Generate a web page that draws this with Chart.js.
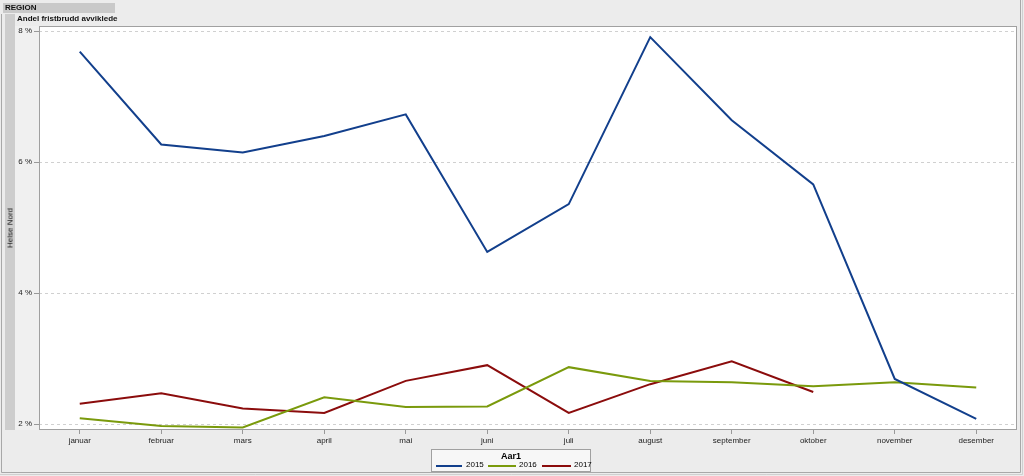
<!DOCTYPE html>
<html><head><meta charset="utf-8">
<script src="https://cdn.jsdelivr.net/npm/chart.js@4/dist/chart.umd.min.js"></script>
<style>
html,body{margin:0;padding:0;background:#ececec;width:1024px;height:476px;overflow:hidden;font-family:"Liberation Sans",Arial,sans-serif;}
#wrap{position:relative;width:1024px;height:476px;}
canvas{position:absolute;left:0;top:0;}
.t{position:absolute;font-size:8px;color:#111;white-space:nowrap;}
#legend{position:absolute;left:431px;top:449px;width:158px;height:21px;border:1px solid #a0a0a0;background:#f7f7f7;font-size:8px;}
#legend .ttl{position:absolute;left:0;width:158px;top:1px;text-align:center;font-weight:bold;font-size:9px;}
#legend .it{position:absolute;top:10px;}
#legend .ln{position:absolute;top:5px;height:2px;}
#legend .lb{position:absolute;top:0;}
</style></head><body>
<div id="wrap">
<canvas id="c" width="1024" height="476"></canvas>
<div class="t" style="left:5px;top:3px;font-weight:bold;">REGION</div>
<div class="t" style="left:17px;top:14px;font-weight:bold;">Andel fristbrudd avviklede</div>
<div class="t" style="left:10px;top:228px;transform:translate(-50%,-50%) rotate(-90deg);">Helse Nord</div>
<div id="legend">
  <div class="ttl">Aar1</div>
  <div class="it" style="left:4px"><div class="ln" style="left:0;width:26px;background:#123f8c"></div><div class="lb" style="left:30px">2015</div></div>
  <div class="it" style="left:56px"><div class="ln" style="left:0;width:28px;background:#7a9a0c"></div><div class="lb" style="left:31px">2016</div></div>
  <div class="it" style="left:110px"><div class="ln" style="left:0;width:29px;background:#8b0c0c"></div><div class="lb" style="left:32px">2017</div></div>
</div>
</div>
<script>
const months = ["januar","februar","mars","april","mai","juni","juli","august","september","oktober","november","desember"];
const y2015 = [7.69,6.27,6.15,6.40,6.73,4.63,5.36,7.91,6.64,5.66,2.69,2.08];
const y2016 = [2.09,1.97,1.95,2.41,2.26,2.27,2.87,2.66,2.64,2.58,2.64,2.56];
const y2017 = [2.31,2.47,2.24,2.17,2.66,2.90,2.17,2.61,2.96,2.49,null,null];
const yTicks = [2,4,6,8];

const bgPlugin = {
  id:'bg',
  beforeDraw(chart){
    const ctx = chart.ctx, a = chart.chartArea;
    ctx.save();
    ctx.fillStyle = '#ececec'; ctx.fillRect(0,0,1024,476);
    ctx.fillStyle = '#c9c9c9'; ctx.fillRect(3,3,112,10);
    ctx.fillStyle = '#cdcdcd'; ctx.fillRect(5,14,10,a.bottom-14);
    ctx.fillStyle = '#f0f0f0'; ctx.fillRect(15,a.top,a.left-15,a.bottom-a.top);
    ctx.strokeStyle = '#a8a8a8'; ctx.lineWidth = 1;
    ctx.beginPath();
    ctx.moveTo(1.5,14); ctx.lineTo(1.5,472.5); ctx.lineTo(1020.5,472.5); ctx.lineTo(1020.5,0);
    ctx.stroke();
    ctx.strokeStyle = '#d0d0d0';
    ctx.beginPath(); ctx.moveTo(1022.5,0); ctx.lineTo(1022.5,474.5); ctx.lineTo(0,474.5); ctx.stroke();
    ctx.fillStyle = '#ffffff'; ctx.fillRect(a.left,a.top,a.right-a.left,a.bottom-a.top);
    ctx.restore();
  },
  afterDraw(chart){
    const ctx = chart.ctx, a = chart.chartArea;
    ctx.save();
    ctx.strokeStyle = '#a0a0a0'; ctx.lineWidth = 1;
    ctx.strokeRect(a.left+0.5,a.top+0.5,a.right-a.left-1,a.bottom-a.top-1);
    ctx.restore();
  }
};

new Chart(document.getElementById('c'), {
  type:'line',
  data:{
    labels: months,
    datasets:[
      {label:'2015', data:y2015, borderColor:'#123f8c', borderWidth:2, pointRadius:0, tension:0, fill:false},
      {label:'2016', data:y2016, borderColor:'#7a9a0c', borderWidth:2, pointRadius:0, tension:0, fill:false},
      {label:'2017', data:y2017, borderColor:'#8b0c0c', borderWidth:2, pointRadius:0, tension:0, fill:false, spanGaps:false}
    ]
  },
  options:{
    responsive:false, animation:false,
    layout:{padding:{left:0,right:7,top:26,bottom:0}},
    plugins:{legend:{display:false}, tooltip:{enabled:false}},
    scales:{
      x:{
        offset:true,
        grid:{display:true, drawOnChartArea:false, offset:false, tickLength:4, tickColor:'#999'},
        border:{display:false},
        ticks:{color:'#222', font:{family:'Liberation Sans', size:8}, padding:2, maxRotation:0, autoSkip:false},
        afterFit(s){ s.height = 46; }
      },
      y:{
        min:1.91, max:8.08,
        afterBuildTicks(s){ s.ticks = yTicks.map(v=>({value:v})); },
        grid:{color:'#d0d0d0', tickLength:5, tickColor:'#999', tickBorderDash:[]},
        border:{display:false, dash:[3,3]},
        ticks:{color:'#222', font:{family:'Liberation Sans', size:8}, padding:2, callback:v=>v+' %'},
        afterFit(s){ s.width = 39; }
      }
    }
  },
  plugins:[bgPlugin]
});
</script>
</body></html>
